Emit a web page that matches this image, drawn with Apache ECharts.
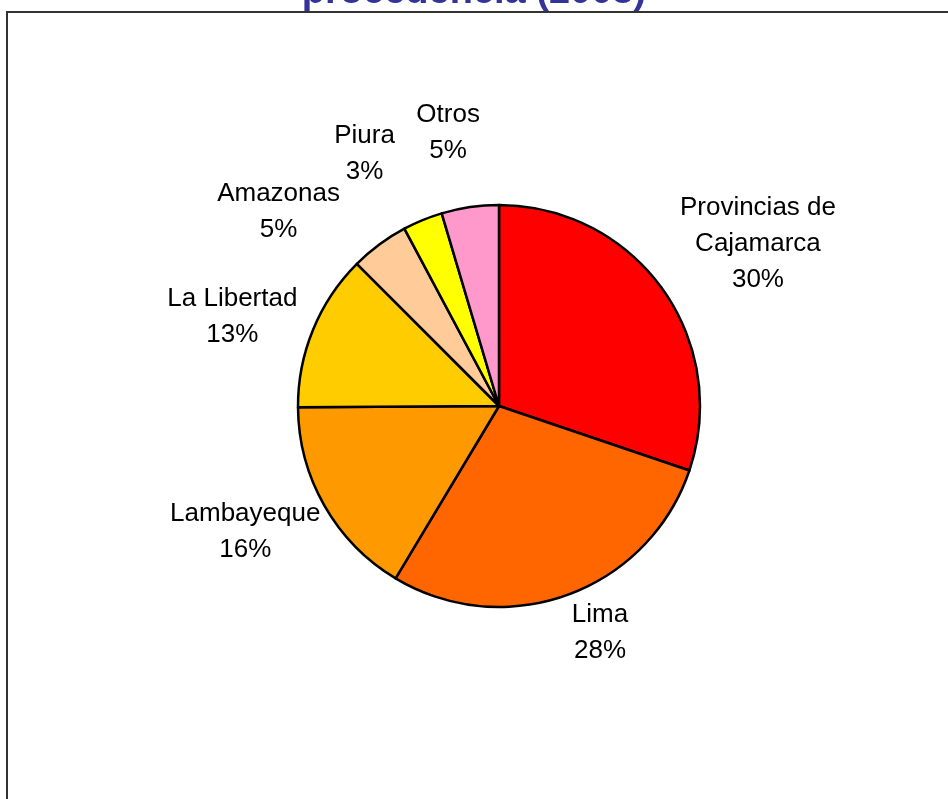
<!DOCTYPE html>
<html>
<head>
<meta charset="utf-8">
<script src="https://cdn.jsdelivr.net/npm/echarts@6/dist/echarts.min.js"></script>
<style>html,body{margin:0;padding:0;background:#fff;}#c{width:948px;height:799px;}</style>
</head>
<body>
<div id="c"></div>
<script>
const categories = ['Provincias de\nCajamarca', 'Lima', 'Lambayeque', 'La Libertad', 'Amazonas', 'Piura', 'Otros'];
const values = [30.2, 28.4, 16.3, 12.6, 4.7, 3.2, 4.6];
const colors = ['#FF0000', '#FF6600', '#FF9900', '#FFCC00', '#FFCC99', '#FFFF00', '#FF99CC'];
const titleText = 'procedencia (2003)';
// label nudges (style only), in pixels
const labelNudge = [[12, 15], [14, -10], [0, -19], [-5, 18], [-57, 26], [-38, -17], [-15, -27]];

const CX = 499, CY = 406, R = 201, GAP = 8;
const total = values.reduce((a, b) => a + b, 0);
const midAngles = [];
let acc = 0;
values.forEach(v => { midAngles.push((acc + v / 2) / total * 2 * Math.PI); acc += v; });

const chart = echarts.init(document.getElementById('c'), null, {renderer: 'canvas'});
chart.setOption({
  animation: false,
  backgroundColor: '#ffffff',
  title: {
    text: titleText,
    left: 'center',
    top: -31,
    textStyle: {fontFamily: 'Liberation Sans, Arial, sans-serif', fontWeight: 'bold', fontSize: 38, color: '#333399'}
  },
  graphic: [{
    type: 'rect', z: 100, silent: true,
    shape: {x: 7, y: 12, width: 1200, height: 1200},
    style: {fill: 'none', stroke: '#333333', lineWidth: 2}
  }],
  series: [{
    type: 'pie',
    center: [CX, CY],
    radius: [0, R],
    startAngle: 90,
    clockwise: true,
    avoidLabelOverlap: false,
    itemStyle: {borderColor: '#000', borderWidth: 2.5},
    label: {
      show: true,
      position: 'outside',
      fontFamily: 'Liberation Sans, Arial, sans-serif',
      fontSize: 26,
      lineHeight: 36,
      color: '#000',
      align: 'center',
      formatter: p => p.name + '\n' + Math.round(p.percent) + '%'
    },
    labelLine: {show: false},
    labelLayout: function (p) {
      const a = midAngles[p.dataIndex];
      const ux = Math.sin(a), uy = -Math.cos(a);
      const hw = p.labelRect.width / 2, hh = p.labelRect.height / 2;
      const d = R + GAP + hw * Math.abs(ux) + hh * Math.abs(uy);
      const n = labelNudge[p.dataIndex];
      return {x: CX + d * ux + n[0], y: CY + d * uy + n[1], align: 'center', verticalAlign: 'middle'};
    },
    data: categories.map((c, i) => ({name: c, value: values[i], itemStyle: {color: colors[i]}}))
  }]
});
</script>
</body>
</html>
